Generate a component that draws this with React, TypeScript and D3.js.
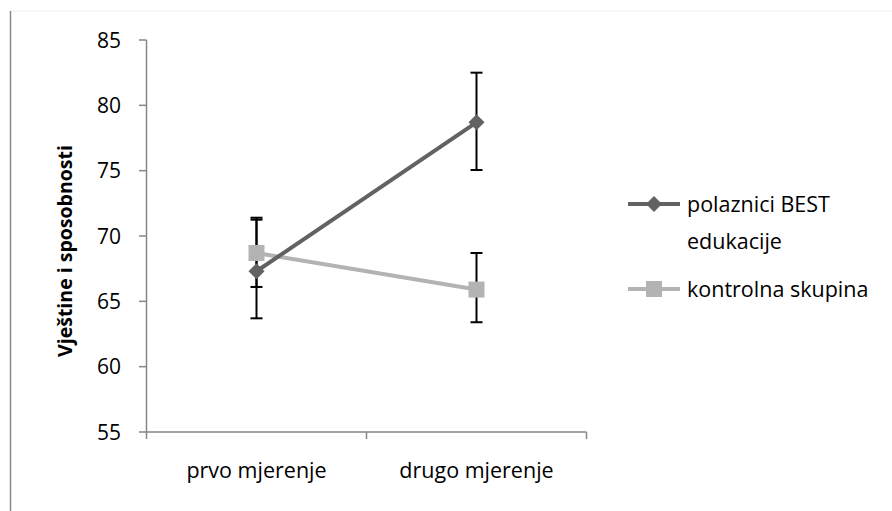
import React from 'react';
import * as d3 from 'd3';

const categories = ['prvo mjerenje', 'drugo mjerenje'];
const yTicks = [55, 60, 65, 70, 75, 80, 85];

const seriesNames = ['polaznici BEST edukacije', 'kontrolna skupina'];
const bestMean = [67.3, 78.7];
const bestLow = [63.7, 75.05];
const bestHigh = [71.4, 82.5];
const controlMean = [68.7, 65.9];
const controlLow = [66.1, 63.4];
const controlHigh = [71.25, 68.7];

const W = 892;
const H = 511;
const FONT = '"Open Sans", "Noto Sans", sans-serif';

const App: React.FC = () => {
  const x = d3.scaleBand().domain(categories).range([146.5, 586.5]);
  const cx = (c: string) => (x(c) as number) + x.bandwidth() / 2;
  const y = d3.scaleLinear().domain([55, 85]).range([432, 40]);

  const series = [
    { name: seriesNames[0], mean: bestMean, low: bestLow, high: bestHigh, color: '#626262', shape: 'diamond' },
    { name: seriesNames[1], mean: controlMean, low: controlLow, high: controlHigh, color: '#b3b3b3', shape: 'square' },
  ];

  const line = d3.line<number>()
    .x((_, i) => cx(categories[i]))
    .y(d => y(d));

  const marker = (shape: string, px: number, py: number, color: string, key: string) =>
    shape === 'diamond'
      ? <path key={key} d={`M${px},${py - 8}L${px + 8},${py}L${px},${py + 8}L${px - 8},${py}Z`} fill={color} />
      : <rect key={key} x={px - 8} y={py - 8} width={16} height={16} fill={color} />;

  const axisColor = '#878787';
  const xTickPositions = [146.5, ...categories.map(c => (x(c) as number) + x.bandwidth())];

  return (
    <svg width={W} height={H} style={{ position: 'absolute', left: 0, top: 0 }} fontFamily={FONT}>
      <rect x={0} y={0} width={W} height={H} fill="#fff" />
      {/* outer frame */}
      <line x1={10} y1={11} x2={W} y2={11} stroke="#efefef" strokeWidth={1} />
      <line x1={10.5} y1={11} x2={10.5} y2={H} stroke="#8a8a8a" strokeWidth={1.5} />

      {/* y axis */}
      <line x1={146.5} y1={y(85)} x2={146.5} y2={y(55)} stroke={axisColor} strokeWidth={1.5} />
      {yTicks.map(t => (
        <g key={t}>
          <line x1={139} x2={146.5} y1={y(t)} y2={y(t)} stroke={axisColor} strokeWidth={1.5} />
          <text x={121} y={y(t)} dy="0.36em" textAnchor="end" fontSize={21} fill="#000">{t}</text>
        </g>
      ))}
      <text transform={`translate(72,${y(70) + 15}) rotate(-90)`} textAnchor="middle" fontSize={19.5} fontWeight="bold" fill="#000">
        Vještine i sposobnosti
      </text>

      {/* x axis */}
      <line x1={146.5} x2={586.5} y1={432} y2={432} stroke={axisColor} strokeWidth={1.5} />
      {xTickPositions.map((p, i) => (
        <line key={i} x1={p} x2={p} y1={432} y2={439} stroke={axisColor} strokeWidth={1.5} />
      ))}
      {categories.map(c => (
        <text key={c} x={cx(c)} y={478} textAnchor="middle" fontSize={21.5} fill="#000">{c}</text>
      ))}

      {/* error bars */}
      {series.map(s => s.mean.map((_, i) => {
        const px = cx(categories[i]);
        return (
          <g key={s.name + i} stroke="#000" strokeWidth={2}>
            <line x1={px} x2={px} y1={y(s.low[i])} y2={y(s.high[i])} />
            <line x1={px - 6} x2={px + 6} y1={y(s.low[i])} y2={y(s.low[i])} />
            <line x1={px - 6} x2={px + 6} y1={y(s.high[i])} y2={y(s.high[i])} />
          </g>
        );
      }))}

      {/* lines and markers, control drawn first */}
      {[...series].reverse().map(s => (
        <g key={s.name}>
          <path d={line(s.mean) as string} fill="none" stroke={s.color} strokeWidth={4} />
          {s.mean.map((v, i) => marker(s.shape, cx(categories[i]), y(v), s.color, s.name + i))}
        </g>
      ))}

      {/* legend */}
      <g>
        <line x1={628} x2={680} y1={204} y2={204} stroke={series[0].color} strokeWidth={4} />
        {marker('diamond', 654, 204, series[0].color, 'lg0')}
        <text x={687} y={204} dy="0.36em" fontSize={21.5} fill="#000">polaznici BEST</text>
        <text x={687} y={241} dy="0.36em" fontSize={21.5} fill="#000">edukacije</text>
        <line x1={628} x2={680} y1={289} y2={289} stroke={series[1].color} strokeWidth={4} />
        {marker('square', 654, 289, series[1].color, 'lg1')}
        <text x={687} y={289} dy="0.36em" fontSize={21.5} fill="#000">{seriesNames[1]}</text>
      </g>
    </svg>
  );
};

export default App;
